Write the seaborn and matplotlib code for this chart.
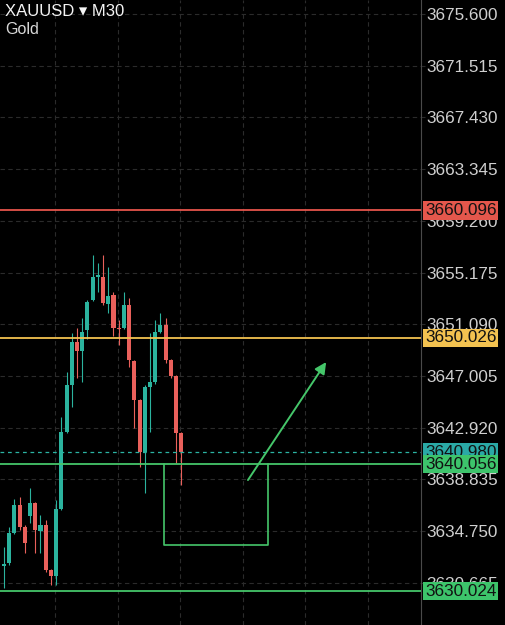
"""
XAUUSD M30 candlestick snapshot with key levels, box and projection arrow.
"""
import numpy as np
import pandas as pd
import matplotlib
matplotlib.use("Agg")
import matplotlib.pyplot as plt
import matplotlib.transforms as mtransforms
import seaborn as sns

# Candle data
opens = [3632.00, 3632.24, 3634.60, 3636.82, 3635.08, 3635.95, 3636.97, 3634.76, 3635.24, 3631.68,
         3631.21, 3636.50, 3642.58, 3646.29, 3649.69, 3648.98, 3650.64, 3653.01, 3654.83, 3654.83,
         3652.69, 3653.40, 3650.80, 3650.80, 3652.61, 3648.19, 3645.11, 3641.00, 3646.14, 3646.53,
         3650.48, 3651.03, 3648.27, 3647.01, 3642.51]
closes = [3632.16, 3634.60, 3636.82, 3635.08, 3633.82, 3636.97, 3634.84, 3635.24, 3631.68, 3631.21,
          3636.50, 3642.58, 3646.29, 3649.69, 3648.98, 3650.48, 3652.85, 3654.83, 3654.98, 3652.77,
          3653.32, 3650.80, 3650.75, 3652.61, 3648.27, 3645.11, 3641.00, 3646.14, 3646.53, 3650.48,
          3651.03, 3648.27, 3647.01, 3642.51, 3640.98]
highs = [3633.50, 3635.08, 3637.29, 3637.45, 3635.24, 3638.16, 3637.05, 3636.03, 3635.63, 3631.75,
         3637.21, 3643.77, 3647.32, 3650.40, 3650.80, 3651.59, 3653.00, 3656.56, 3655.93, 3656.56,
         3655.62, 3653.64, 3651.43, 3653.64, 3653.17, 3648.25, 3645.20, 3646.29, 3650.40, 3651.43,
         3651.98, 3651.59, 3648.35, 3647.10, 3642.60]
lows = [3630.26, 3632.08, 3634.55, 3634.84, 3633.02, 3635.39, 3633.02, 3633.02, 3631.52, 3630.50,
        3630.50, 3636.40, 3642.51, 3644.56, 3646.85, 3646.53, 3649.95, 3652.90, 3653.64, 3652.61,
        3651.98, 3650.20, 3649.45, 3650.70, 3647.72, 3642.90, 3639.82, 3637.77, 3642.58, 3646.40,
        3650.40, 3648.00, 3646.85, 3640.13, 3638.40]

# Price axis ticks
price_ticks = [3630.665, 3634.750, 3638.835, 3642.920, 3647.005, 3651.090,
               3655.175, 3659.260, 3663.345, 3667.430, 3671.515, 3675.600]

# Horizontal levels
resistance_level = 3660.096
mid_level = 3650.026
support_level = 3640.056
low_level = 3630.024
last_price = 3640.980

# Drawn box and arrow (bar index / price)
box_left, box_right, box_bottom = 30.7, 50.7, 3633.66
arrow_start = (46.8, 3638.79)
arrow_end = (61.8, 3648.11)

BULL = "#2bb39e"
BEAR = "#e9605b"
RED_LINE = "#e5544b"
YELLOW = "#f3c250"
GREEN = "#45c66a"
TEAL = "#2bb3a3"
GRID = "#2b2b2b"
TXT = "#cfcfcf"

sns.set_theme(style="dark", rc={
    "figure.facecolor": "black",
    "axes.facecolor": "black",
    "axes.edgecolor": "#4a4a4a",
})
plt.rcParams["font.family"] = ["Liberation Sans", "DejaVu Sans"]

df = pd.DataFrame({"open": opens, "high": highs, "low": lows, "close": closes})
df["idx"] = np.arange(len(df))
df["bull"] = df["close"] >= df["open"]
df["color"] = np.where(df["bull"], BULL, BEAR)
df["body_low"] = df[["open", "close"]].min(axis=1)
df["body_h"] = (df["close"] - df["open"]).abs().clip(lower=0.08)

fig = plt.figure(figsize=(5.06, 6.25), dpi=100)
ax = fig.add_axes([0, 0, 421 / 506, 1])

# grid
ax.set_yticks(price_ticks)
ax.set_yticklabels([f"{t:.3f}" for t in price_ticks])
ax.set_xticks([9.8 + 12 * k for k in range(6)])
ax.set_xticklabels([])
ax.grid(True, color=GRID, linestyle=(0, (4, 3)), linewidth=0.8)

# candles
ax.vlines(df["idx"], df["low"], df["high"], colors=df["color"], linewidth=0.8, zorder=3)
ax.bar(df["idx"], df["body_h"], bottom=df["body_low"], width=0.78,
       color=df["color"], linewidth=0, zorder=4)

# levels
ax.axhline(resistance_level, color=RED_LINE, linewidth=1.3, zorder=5)
ax.axhline(mid_level, color=YELLOW, linewidth=1.3, zorder=5)
ax.axhline(support_level, color=GREEN, linewidth=1.3, zorder=5)
ax.axhline(low_level, color=GREEN, linewidth=1.3, zorder=5)
ax.axhline(last_price, color=TEAL, linewidth=0.9, linestyle=(0, (3, 3)), zorder=5)

# box below support
ax.plot([box_left, box_left, box_right, box_right],
        [support_level, box_bottom, box_bottom, support_level],
        color=GREEN, linewidth=1.2, zorder=5)

# projection arrow
ax.annotate("", xy=arrow_end, xytext=arrow_start,
            arrowprops=dict(arrowstyle="-|>", color=GREEN, lw=1.4,
                            mutation_scale=17, shrinkA=0, shrinkB=0), zorder=6)

ax.set_xlim(-0.77, 80.0)
ax.set_ylim(3627.34, 3676.71)

# axis styling
for side in ["left", "top", "bottom"]:
    ax.spines[side].set_visible(False)
ax.spines["right"].set_color("#4a4a4a")
ax.spines["right"].set_linewidth(0.8)
ax.yaxis.tick_right()
ax.tick_params(axis="y", colors=GRID, labelcolor=TXT, labelsize=12.3,
               length=3, width=0.8, pad=1.2)
ax.tick_params(axis="x", length=0)

# price tags
trans = mtransforms.blended_transform_factory(ax.transAxes, ax.transData)
tag_x = 1.0 + 4 / 421
for price, bg in [(resistance_level, "#e4574c"), (mid_level, YELLOW),
                  (last_price, "#2aa9a6"), (support_level, "#3dc46b"), (low_level, "#3dc46b")]:
    ax.text(tag_x, price, f"{price:.3f}", transform=trans, ha="left", va="center",
            fontsize=12.3, color="#111111", clip_on=False, zorder=10,
            bbox=dict(boxstyle="square,pad=0.1", facecolor=bg, edgecolor="none"))

# header
fig.text(5 / 506, 1 - 11 / 625, "XAUUSD \u25be M30", color="#f4f4f4",
         fontsize=12, ha="left", va="center")
fig.text(5 / 506, 1 - 29 / 625, "Gold", color="#d8d8d8",
         fontsize=11.5, ha="left", va="center")

fig.savefig("out.png", dpi=100, facecolor="black")
plt.close(fig)
